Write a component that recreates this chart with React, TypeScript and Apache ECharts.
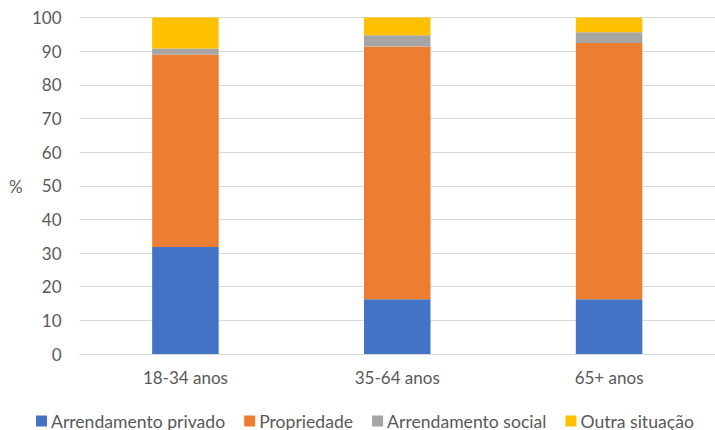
import React, { useEffect, useRef } from "react";
import * as echarts from "echarts";

const categories = ["18-34 anos", "35-64 anos", "65+ anos"];
const seriesNames = ["Arrendamento privado", "Propriedade", "Arrendamento social", "Outra situação"];
const arrendamentoPrivado = [31.8, 16.3, 16.3];
const propriedade = [57.2, 75.1, 76.1];
const arrendamentoSocial = [1.8, 3.3, 3.2];
const outraSituacao = [9.2, 5.3, 4.4];
const colors = ["#4472C4", "#ED7D31", "#A5A5A5", "#FFC000"];

const FONT = "Lato";
const TEXT_COLOR = "#595959";

export default function App() {
  const ref = useRef<HTMLDivElement>(null);
  useEffect(() => {
    if (!ref.current) return;
    const chart = echarts.init(ref.current, undefined, { renderer: "svg" });
    const values = [arrendamentoPrivado, propriedade, arrendamentoSocial, outraSituacao];
    chart.setOption({
      animation: false,
      grid: { left: 79.5, right: -3.5, top: 17.5, bottom: 76, containLabel: false },
      xAxis: {
        type: "category",
        data: categories,
        axisTick: { show: false },
        axisLine: { lineStyle: { color: "#D9D9D9", width: 1 } },
        axisLabel: { color: TEXT_COLOR, fontFamily: FONT, fontSize: 17, margin: 15 },
      },
      yAxis: {
        type: "value",
        min: 0,
        max: 100,
        interval: 10,
        axisLine: { show: false },
        axisTick: { show: false },
        splitLine: { lineStyle: { color: "#D9D9D9", width: 1 } },
        axisLabel: { color: TEXT_COLOR, fontFamily: FONT, fontSize: 17, margin: 18 },
      },
      legend: {
        bottom: -5,
        left: 31,
        itemWidth: 11,
        itemHeight: 11,
        itemGap: 19,
        icon: "rect",
        textStyle: { color: TEXT_COLOR, fontFamily: FONT, fontSize: 17.6, padding: [0, 0, 0, -1] },
        data: seriesNames,
      },
      graphic: [
        {
          type: "text",
          left: 9,
          top: 178,
          style: { text: "%", fill: TEXT_COLOR, font: `17px ${FONT}` },
        },
      ],
      series: seriesNames.map((name, i) => ({
        name,
        type: "bar",
        stack: "total",
        barWidth: "31.4%",
        data: values[i],
        itemStyle: { color: colors[i] },
      })),
    });
    return () => chart.dispose();
  }, []);
  return (
    <div style={{ position: "absolute", left: 0, top: 0, width: 715, height: 430, overflow: "hidden" }}>
      <div ref={ref} style={{ width: 715, height: 430 }} />
    </div>
  );
}
